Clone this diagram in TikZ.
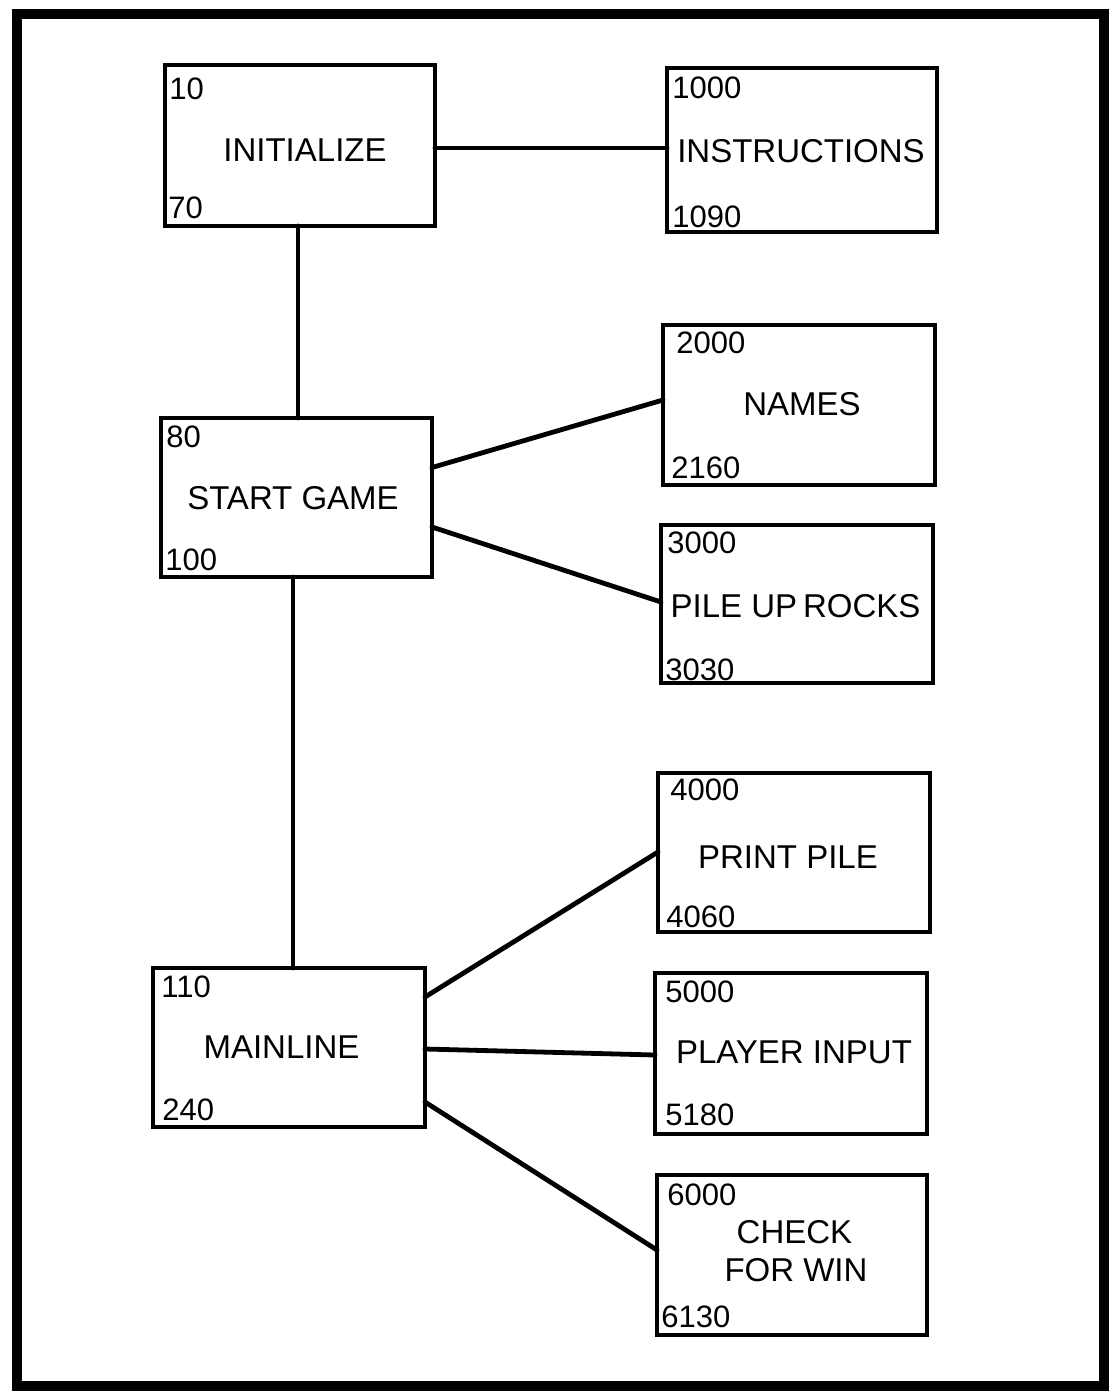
\documentclass[tikz,border=0pt]{standalone}
\usepackage{fontspec}
\setmainfont{Liberation Sans}
\begin{document}
\begin{tikzpicture}[x=0.5pt,y=-0.5pt,
  box/.style={draw=black, line width=2pt, rectangle, inner sep=0pt, outer sep=0pt},
  lbl/.style={anchor=base, inner sep=0pt, font=\fontsize{16.5pt}{19pt}\selectfont},
  num/.style={anchor=base west, inner sep=0pt, font=\fontsize{15.5pt}{18pt}\selectfont},
  conn/.style={draw=black, line width=2.4pt, line cap=round}]
\useasboundingbox (0,0) rectangle (1118,1393);
\draw[line width=4.8pt] (17,14) rectangle (1104,1386);

% boxes
\node[box, minimum width=135pt, minimum height=80.5pt] (init)   at (300,145.5) {};
\node[box, minimum width=135pt, minimum height=82pt]   (instr)  at (802,150) {};
\node[box, minimum width=136pt, minimum height=80pt]   (names)  at (799,405) {};
\node[box, minimum width=135.5pt, minimum height=79.5pt] (start) at (296.5,497.5) {};
\node[box, minimum width=136pt, minimum height=79pt]   (pile)   at (797,604) {};
\node[box, minimum width=136pt, minimum height=79.5pt] (print)  at (794,852.5) {};
\node[box, minimum width=136pt, minimum height=79.5pt] (main)   at (289,1047.5) {};
\node[box, minimum width=136pt, minimum height=80.5pt] (player) at (791,1053.5) {};
\node[box, minimum width=135pt, minimum height=80pt]   (check)  at (792,1255) {};

% labels
\node[lbl] (tInit)   at (305,161)  {INITIALIZE};
\node[lbl] (tInstr)  at (801,162)  {INSTRUCTIONS};
\node[lbl] (tNames)  at (802,415)  {NAMES};
\node[lbl] (tStart)  at (293,509)  {START GAME};
\node[lbl] (tPile)   at (795.5,617) {PILE UP\hspace{-0.1em} ROCKS};
\node[lbl] (tPrint)  at (788,868)  {PRINT PILE};
\node[lbl] (tMain)   at (281.5,1058) {MAINLINE};
\node[lbl] (tPlayer) at (794,1063) {PLAYER INPUT};
\node[lbl] (tCheckA) at (794.5,1243) {CHECK};
\node[lbl] (tCheckB) at (796,1281) {FOR WIN};

% line numbers
\node[num] (n10)   at (169,99)   {10};
\node[num] (n70)   at (168,218)  {70};
\node[num] (n1000) at (672,98)   {1000};
\node[num] (n1090) at (672,227)  {1090};
\node[num] (n2000) at (676,353)  {2000};
\node[num] (n2160) at (671,478)  {2160};
\node[num] (n80)   at (166,447)  {80};
\node[num] (n100)  at (165,570)  {100};
\node[num] (n3000) at (667,553)  {3000};
\node[num] (n3030) at (665,680)  {3030};
\node[num] (n4000) at (670,800)  {4000};
\node[num] (n4060) at (666,927)  {4060};
\node[num] (n110)  at (161,997)  {110};
\node[num] (n240)  at (162,1120) {240};
\node[num] (n5000) at (665,1002) {5000};
\node[num] (n5180) at (665,1125) {5180};
\node[num] (n6000) at (667,1205) {6000};
\node[num] (n6130) at (661,1327) {6130};

% connectors
\draw[conn] ([yshift=-1.25pt]init.east) -- ([yshift=1pt]instr.east -| instr.west);
\draw[conn] ([xshift=-1pt]init.south) -- ([xshift=-1pt]init.south |- start.north);
\draw[conn] ([yshift=15pt]start.east) -- ([yshift=2.5pt]names.west);
\draw[conn] ([yshift=-14.75pt]start.east) -- ([yshift=1pt]pile.west);
\draw[conn] ([xshift=-1.75pt]start.south) -- ([xshift=-1.75pt]start.south |- main.north);
\draw[conn] ([yshift=25.25pt]main.east) -- ([yshift=0.25pt]print.west);
\draw[conn] ([yshift=-0.75pt]main.east) -- ([yshift=-0.75pt]player.west);
\draw[conn] ([yshift=-27.25pt]main.east) -- ([yshift=2.5pt]check.west);
\end{tikzpicture}
\end{document}
